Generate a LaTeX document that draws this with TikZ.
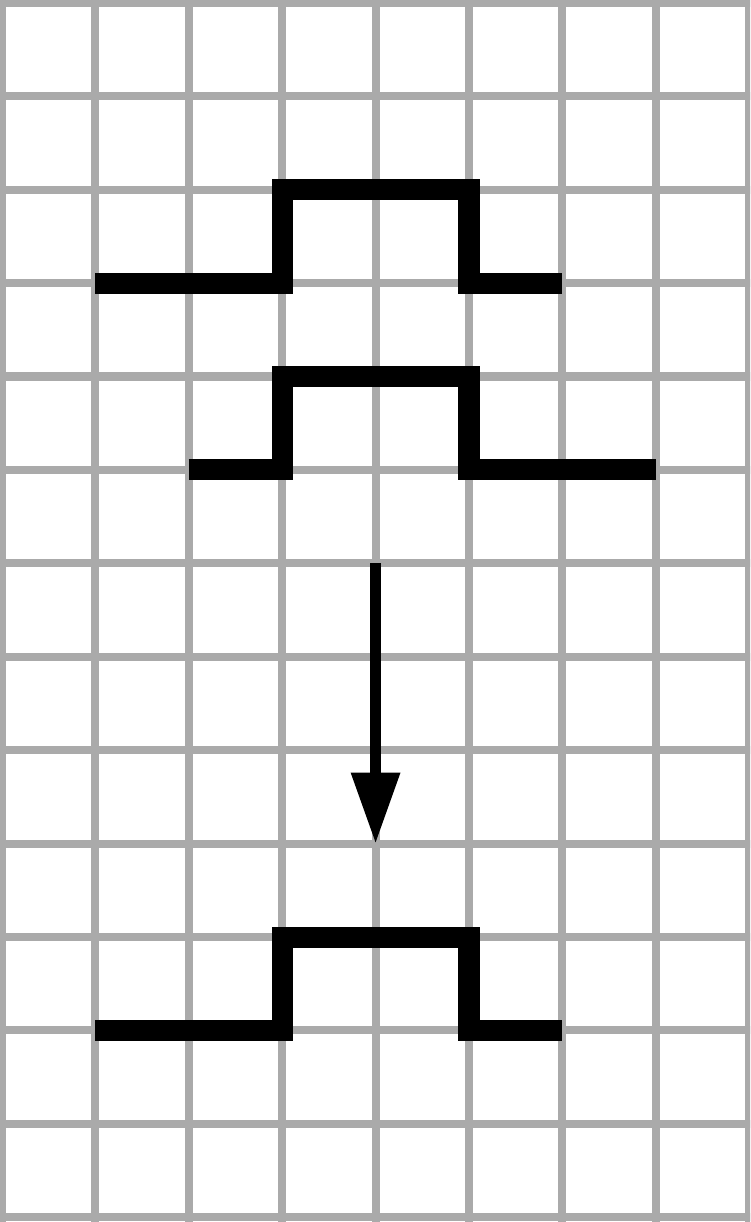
\documentclass[tikz,border=0pt]{standalone}
\usetikzlibrary{arrows.meta}
\definecolor{gridgray}{RGB}{170,170,170}
\tikzset{
  gridline/.style={draw=gridgray, line width=2.45pt},
  pulse/.style={draw=black, line width=6.4pt, line join=miter, line cap=butt},
  flowarrow/.style={draw=black, line width=3.2pt, -{Triangle[length=0.76cm, width=0.5cm]}}
}
\begin{document}
\begin{tikzpicture}[x=1cm,y=1cm]
\useasboundingbox (-0.02,-0.05) rectangle (8.01,13.03);
\fill[white] (-0.02,-0.05) rectangle (8.01,13.03);
\clip (-0.02,-0.05) rectangle (8.01,13.03);
% grid
\foreach \i in {0,...,8} \draw[gridline] (\i,-0.2) -- (\i,13.2);
\foreach \j in {0,...,13} \draw[gridline] (-0.2,\j) -- (8.2,\j);
% pulse 1
\draw[pulse] (1,10) -- (3,10) -- (3,11) -- (5,11) -- (5,10) -- (6,10);
% pulse 2
\draw[pulse] (2,8) -- (3,8) -- (3,9) -- (5,9) -- (5,8) -- (7,8);
% arrow
\coordinate (astart) at (4,7);
\coordinate (aend) at (4,4);
\draw[flowarrow] (astart) -- (aend);
% pulse 3
\draw[pulse] (1,2) -- (3,2) -- (3,3) -- (5,3) -- (5,2) -- (6,2);
\end{tikzpicture}
\end{document}
